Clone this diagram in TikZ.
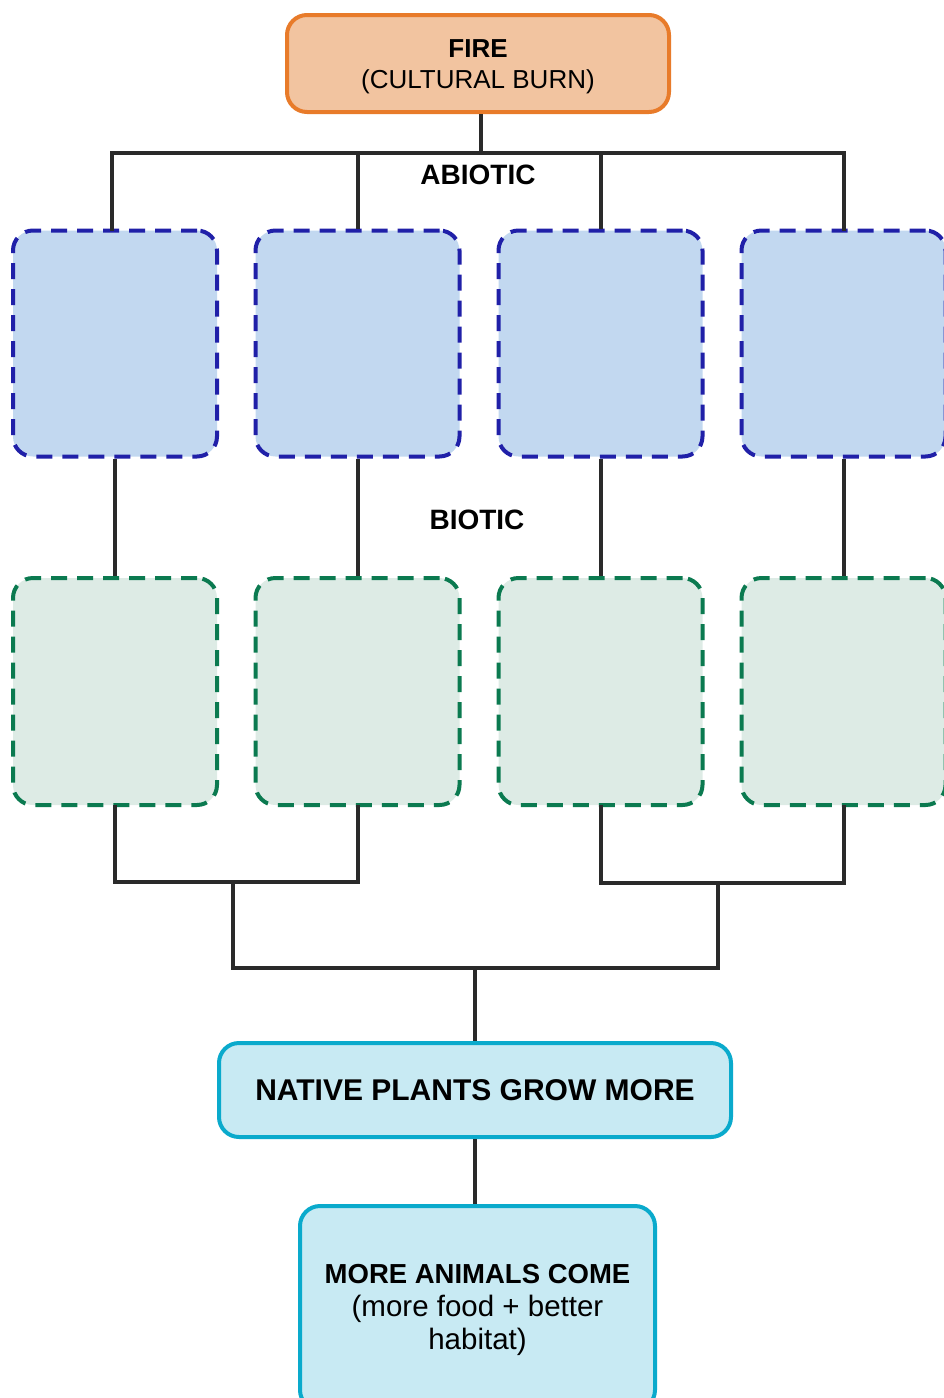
\documentclass[tikz,border=0pt]{standalone}
\usepackage{fontspec}
\setmainfont{Liberation Sans}
\usetikzlibrary{calc}

\definecolor{fireline}{HTML}{E87B2A}
\definecolor{firefill}{HTML}{F2C4A0}
\definecolor{abioline}{HTML}{2020A8}
\definecolor{abiofill}{HTML}{C2D8F0}
\definecolor{bioline}{HTML}{0B7A50}
\definecolor{biofill}{HTML}{DDEBE5}
\definecolor{outline}{HTML}{0AAACC}
\definecolor{outfill}{HTML}{C8EAF3}
\definecolor{wire}{HTML}{2A2A2A}

\tikzset{
  card/.style={rounded corners=20pt, line width=4pt, inner sep=0pt, align=center},
  firebox/.style={card, draw=fireline, fill=firefill, minimum width=382pt, minimum height=97pt,
    font=\fontsize{26}{31}\selectfont},
  abiobox/.style={card, draw=abioline, fill=abiofill, dash pattern=on 16pt off 10pt,
    minimum width=204pt, minimum height=226pt},
  biobox/.style={card, draw=bioline, fill=biofill, dash pattern=on 16pt off 10pt,
    minimum width=204pt, minimum height=227pt},
  outbox/.style={card, draw=outline, fill=outfill},
  link/.style={draw=wire, line width=4pt},
  tag/.style={font=\fontsize{28}{33}\selectfont\bfseries, inner sep=0pt}
}

\begin{document}
\begin{tikzpicture}[x=1pt, y=-1pt]
  \useasboundingbox (0,0) rectangle (943,1398);

  % source of the tree
  \node[firebox] (fire) at (478,63.5) {};
  \node[font=\fontsize{26}{31}\selectfont, align=center, inner sep=0pt] (firetext)
        at (478,66.5) {\textbf{FIRE}\\(CULTURAL BURN)};

  % abiotic row
  \node[abiobox] (a1) at (115,343.5) {};
  \node[abiobox] (a2) at (357.5,343.5) {};
  \node[abiobox] (a3) at (600.5,343.5) {};
  \node[abiobox] (a4) at (843.5,343.5) {};

  % biotic row
  \node[biobox] (g1) at (115,691.5) {};
  \node[biobox] (g2) at (357.5,691.5) {};
  \node[biobox] (g3) at (600.5,691.5) {};
  \node[biobox] (g4) at (843.5,691.5) {};

  % outcomes
  \node[outbox, minimum width=512pt, minimum height=94pt,
        font=\fontsize{30}{36}\selectfont\bfseries] (plants) at (475,1090) {NATIVE PLANTS GROW MORE};
  \node[outbox, minimum width=355pt, minimum height=204pt] (animals) at (477.5,1308) {};
  \node[font=\fontsize{29.5}{33}\selectfont, align=center, inner sep=0pt] (animaltext)
        at (477.5,1310)
        {{\fontsize{27.5}{33}\selectfont\bfseries MORE ANIMALS COME}\\(more food + better\\habitat)};

  % row labels
  \node[tag] (abio) at (478,175) {ABIOTIC};
  \node[tag] (bio) at (477,520) {BIOTIC};

  % fire to the abiotic row
  \coordinate (bus) at (481,153);
  \draw[link] (fire.south -| bus) -- (bus);
  \draw[link, line cap=rect] ([xshift=-3pt]a1.north) -- ([xshift=-3pt]a1.north |- bus)
        -- (a4.north |- bus) -- (a4.north);
  \draw[link] (a2.north) -- (a2.north |- bus);
  \draw[link] (a3.north) -- (a3.north |- bus);

  % abiotic to biotic
  \draw[link] (a1.south) -- (g1.north);
  \draw[link] (a2.south) -- (g2.north);
  \draw[link] (a3.south) -- (g3.north);
  \draw[link] (a4.south) -- (g4.north);

  % biotic pairs merging
  \coordinate (left) at (233,882);
  \coordinate (right) at (718,883);
  \coordinate (join) at (475,968);
  \draw[link, line cap=rect] (g1.south) -- (g1.south |- left) -- (g2.south |- left) -- (g2.south);
  \draw[link, line cap=rect] (g3.south) -- (g3.south |- right) -- (g4.south |- right) -- (g4.south);
  \draw[link, line cap=rect] (left) -- (left |- join) -- (right |- join) -- (right);
  \draw[link] (join) -- (plants.north);

  % plants to animals
  \draw[link] (plants.south) -- (plants.south |- animals.north);
\end{tikzpicture}
\end{document}
